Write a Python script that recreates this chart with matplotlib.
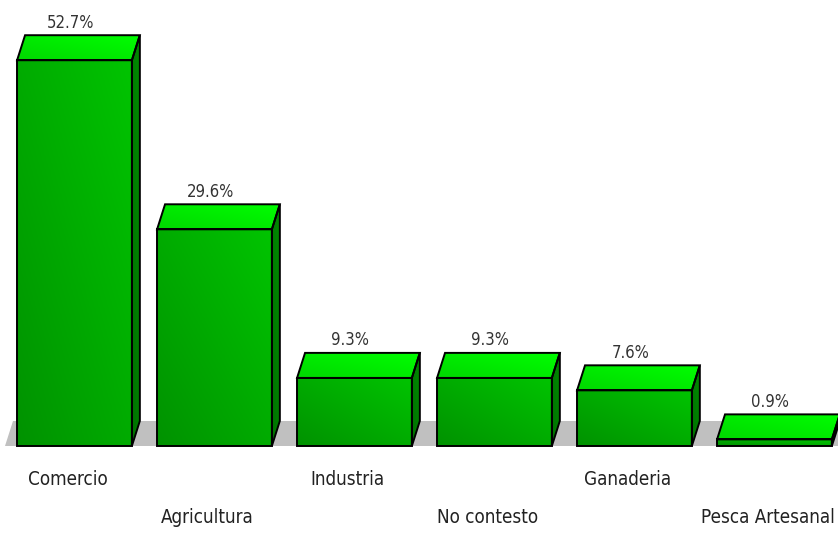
import numpy as np
import matplotlib.pyplot as plt
from matplotlib.patches import Polygon
from matplotlib.colors import LinearSegmentedColormap

categorias = ['Comercio', 'Agricultura', 'Industria', 'No contesto', 'Ganaderia', 'Pesca Artesanal']
porcentajes = [52.7, 29.6, 9.3, 9.3, 7.6, 0.9]
etiquetas = ['52.7%', '29.6%', '9.3%', '9.3%', '7.6%', '0.9%']

fig = plt.figure(figsize=(8.38, 5.35), dpi=100)
ax = fig.add_axes([0, 0, 1, 1])
ax.axis('off')

# medidas de la "caja" 3d en unidades de datos
w = 0.41      # media anchura del frente
dx = 0.057    # profundidad en x
dy = 3.42     # profundidad en y

frente_cm = LinearSegmentedColormap.from_list('frente', ['#009200', '#00c400'])
techo_cm = LinearSegmentedColormap.from_list('techo', ['#00d800', '#00ff00'])
lado_cm = LinearSegmentedColormap.from_list('lado', ['#007000', '#008c00'])

X, Y = np.meshgrid(np.linspace(0, 1, 64), np.linspace(0, 1, 64))
grad = (X + Y) / 2


def cara(pts, cmap, z):
    borde = Polygon(pts, closed=True, facecolor='none', edgecolor='black',
                    lw=1.4, zorder=z + 0.5, joinstyle='miter')
    ax.add_patch(borde)
    xs, ys = np.array(pts).T
    im = ax.imshow(grad, cmap=cmap, origin='lower', aspect='auto',
                   extent=(xs.min(), xs.max(), ys.min(), ys.max()), zorder=z)
    im.set_clip_path(borde)


# suelo gris
suelo = Polygon([(-0.496, 0), (5.46, 0), (5.46, dy), (-0.44, dy)],
                closed=True, facecolor='#c0c0c0', edgecolor='none', zorder=1)
ax.add_patch(suelo)

for i, (v, et) in enumerate(zip(porcentajes, etiquetas)):
    z = 2 + i
    x0, x1 = i - w, i + w
    cara([(x1, 0), (x1 + dx, dy), (x1 + dx, v + dy), (x1, v)], lado_cm, z)
    cara([(x0, v), (x1, v), (x1 + dx, v + dy), (x0 + dx, v + dy)], techo_cm, z)
    cara([(x0, 0), (x1, 0), (x1, v), (x0, v)], frente_cm, z)
    ax.text(i - 0.03, v + dy + 0.5, et, ha='center', va='bottom',
            fontsize=12, color='#333333', family='DejaVu Sans',
            fontstretch='condensed', zorder=20)

for i, c in enumerate(categorias):
    y = -4.6 if i % 2 == 0 else -9.8
    ax.text(i - 0.05, y, c, ha='center', va='center', fontsize=13.5,
            color='#222222', family='DejaVu Sans', fontstretch='condensed')

ax.set_xlim(-0.532, 5.454)
ax.set_ylim(-12.16, 60.93)

fig.savefig('out.png', dpi=100)
